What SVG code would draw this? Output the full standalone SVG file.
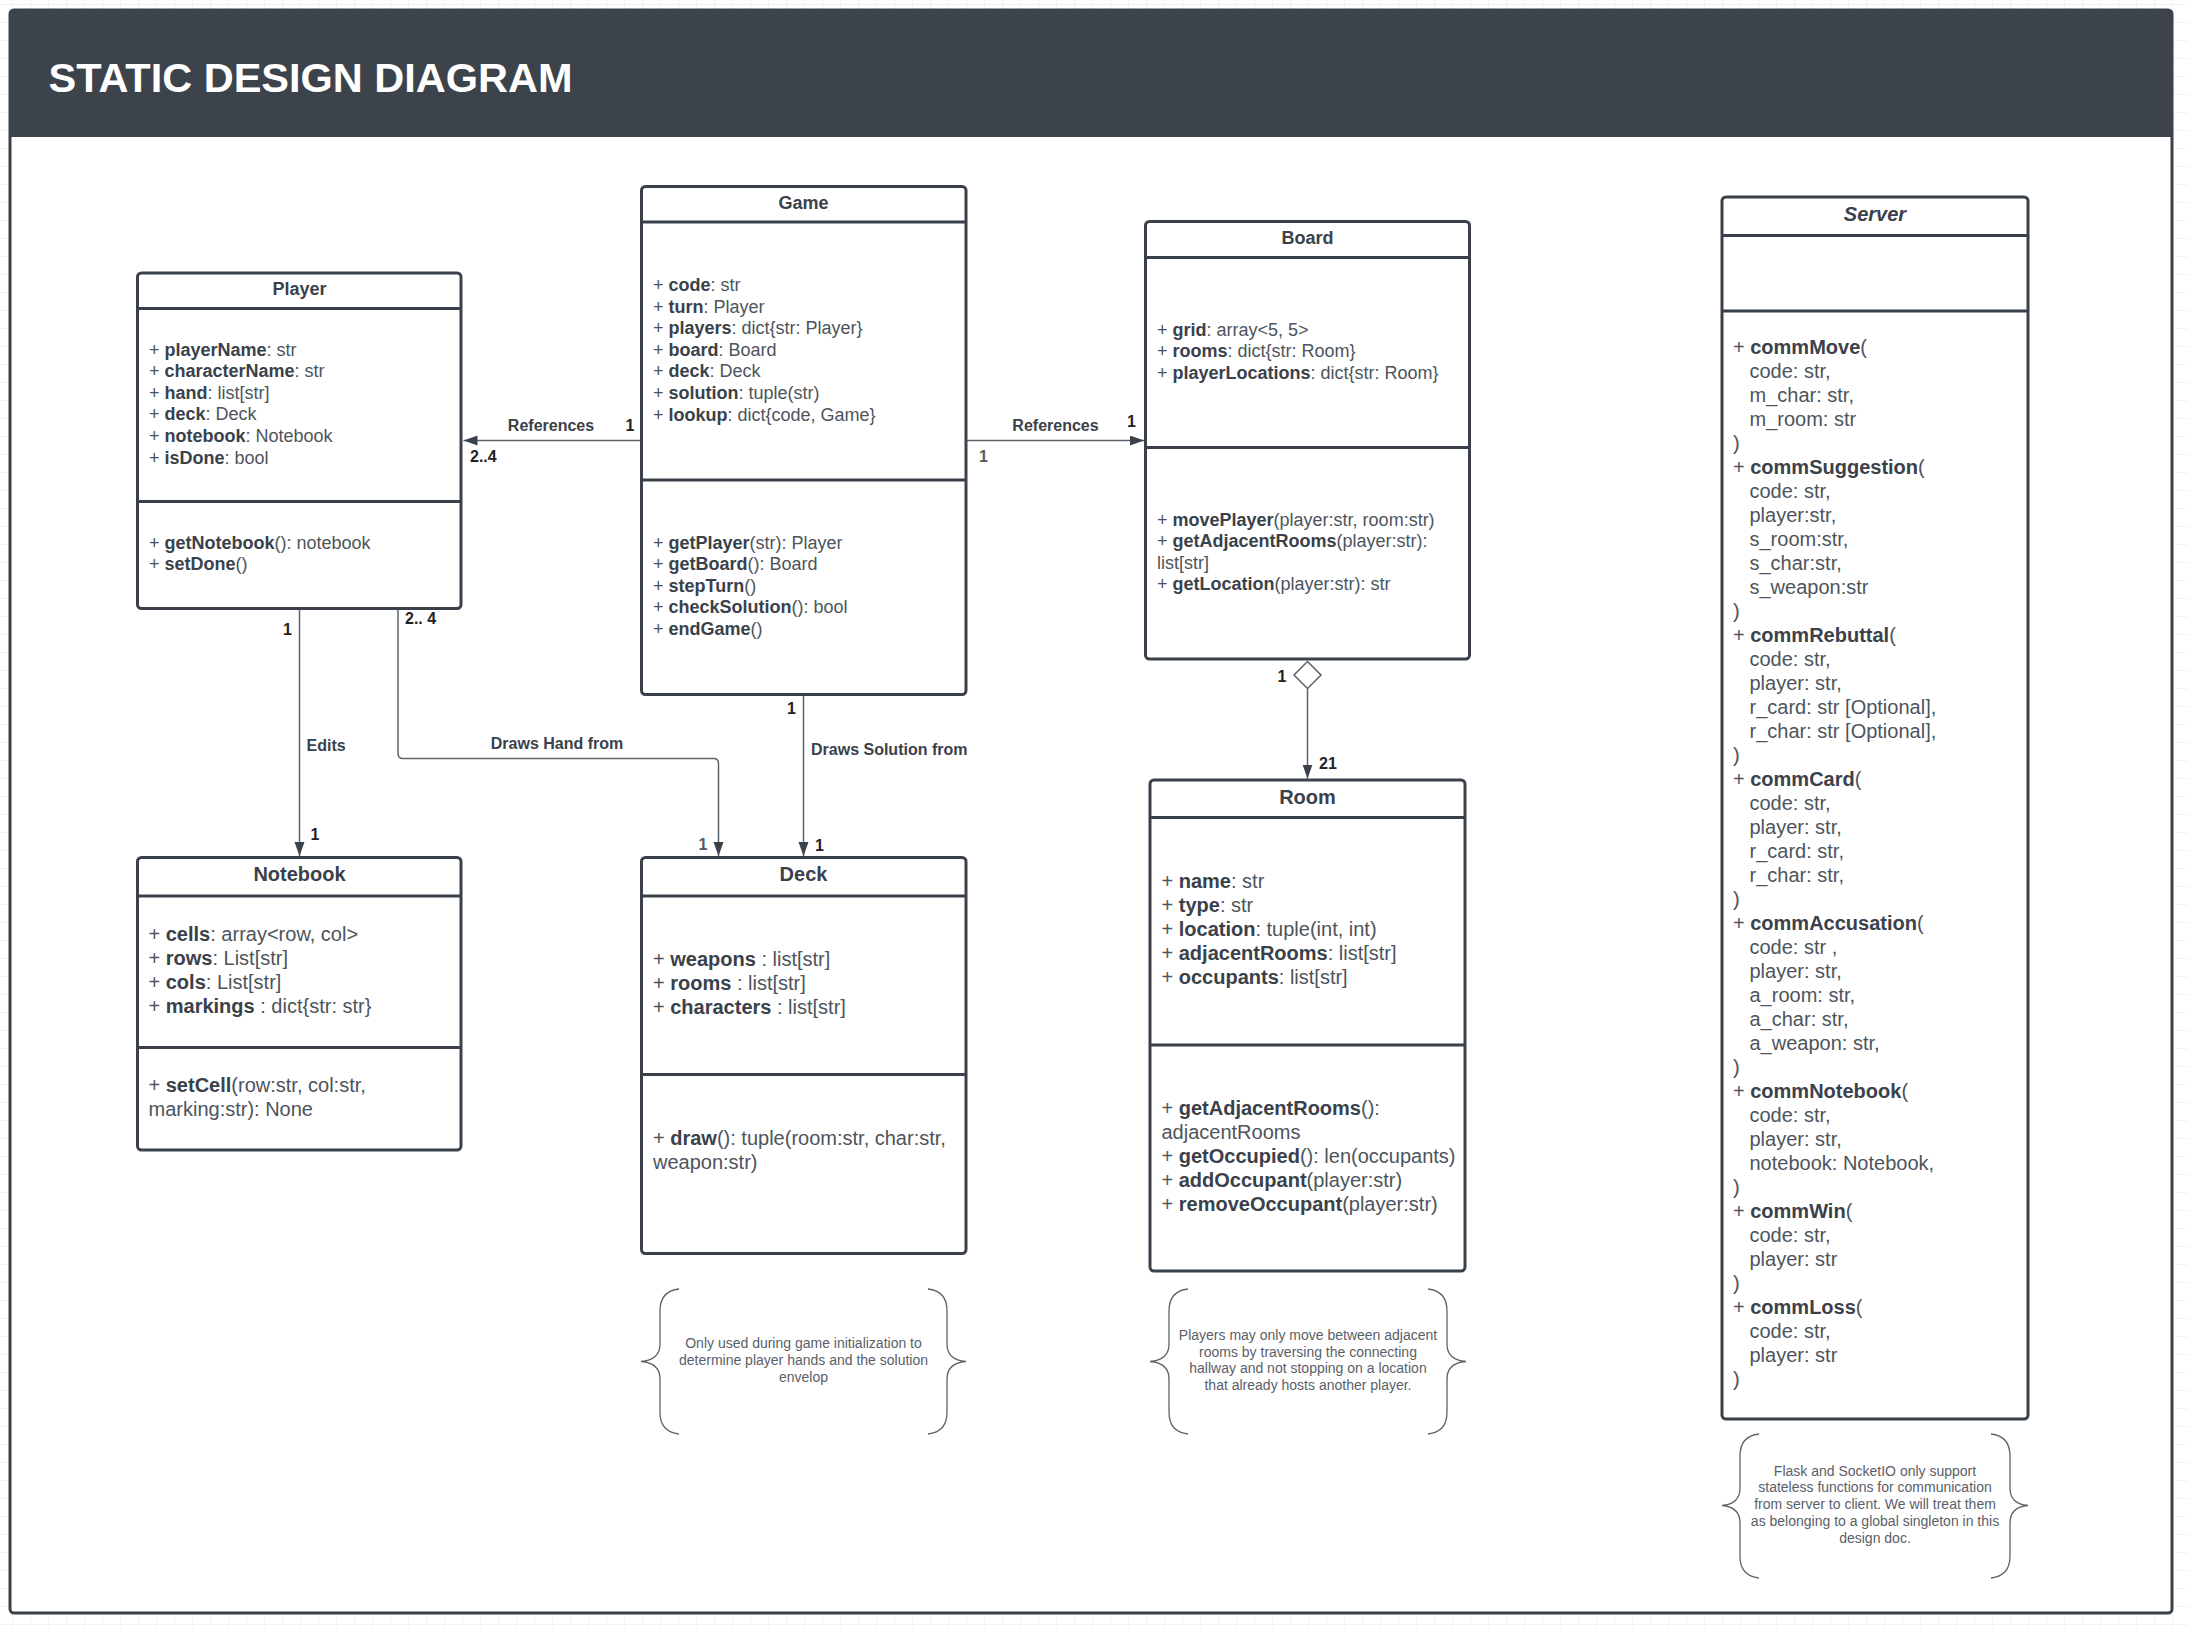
<svg xmlns="http://www.w3.org/2000/svg" width="2188" height="1628" viewBox="0 0 2188 1628">
<defs>
<pattern id="grid" width="18" height="18" patternUnits="userSpaceOnUse" x="12" y="4">
<path d="M18 0 L0 0 L0 18" fill="none" stroke="#e6e7e9" stroke-width="1"/>
</pattern>
<marker id="arr" markerUnits="userSpaceOnUse" markerWidth="16" markerHeight="12" refX="14" refY="5" orient="auto">
<path d="M0,0 L14,5 L0,10 z" fill="#3a414a"/>
</marker>
<style>
.t{font-family:'Liberation Sans',Arial,sans-serif;fill:#4d545c}
.b{font-weight:bold;fill:#3a414a}
.box{fill:#fff;stroke:#3a414a;stroke-width:3}
.dv{stroke:#3a414a;stroke-width:3}
.h18{font-size:18px;font-weight:bold;text-anchor:middle;fill:#3a414a}
.h20{font-size:20px;font-weight:bold;text-anchor:middle;fill:#3a414a}
.s18{font-size:18px}
.s20{font-size:20px}
.conn{stroke:#5c636b;stroke-width:1.5;fill:none}
.lbl{font-size:16px;font-weight:bold;fill:#3a414a}
.mult{font-size:16px;font-weight:bold;fill:#1f2226}
.note{font-size:14px;fill:#5a6068;text-anchor:middle}
.brace{stroke:#5c636b;stroke-width:1.3;fill:none}
</style>
</defs>
<rect x="0" y="0" width="2188" height="1628" fill="#fff"/>
<rect x="0" y="0" width="2188" height="1628" fill="url(#grid)"/>
<g id="frame">
<rect x="10" y="10" width="2162" height="1603" rx="4" fill="#fff" stroke="#3a414a" stroke-width="3"/>
<path d="M14 10 H2168 Q2172 10 2172 14 V137 H10 V14 Q10 10 14 10 z" fill="#3d434b"/>
<text class="t" x="48.5" y="92" font-size="41.5" font-weight="bold" fill="#ffffff" style="fill:#ffffff">STATIC DESIGN DIAGRAM</text>
</g>

<g id="connectors">
<path class="conn" d="M641 440.5 L463.5 440.5" marker-end="url(#arr)"/>
<path class="conn" d="M966 440.5 L1144 440.5" marker-end="url(#arr)"/>
<path class="conn" d="M299.5 608.5 L299.5 856" marker-end="url(#arr)"/>
<path class="conn" d="M398 608.5 L398 753.5 Q398 758.5 403 758.5 L713.5 758.5 Q718.5 758.5 718.5 763.5 L718.5 856" marker-end="url(#arr)"/>
<path class="conn" d="M803.5 695 L803.5 856" marker-end="url(#arr)"/>
<polygon points="1307.5,661.5 1321,675 1307.5,688.5 1294,675" fill="#fff" stroke="#5c636b" stroke-width="1.5"/>
<path class="conn" d="M1307.5 688.5 L1307.5 778.5" marker-end="url(#arr)"/>
<text class="t lbl" x="551" y="431" text-anchor="middle">References</text>
<text class="t mult" x="630" y="431" text-anchor="middle">1</text>
<text class="t mult" x="470" y="462">2..4</text>
<text class="t lbl" x="1055.5" y="431" text-anchor="middle">References</text>
<text class="t mult" x="1131.5" y="426.5" text-anchor="middle">1</text>
<text class="t lbl" x="983.5" y="461.5" text-anchor="middle" style="fill:#555b63">1</text>
<text class="t mult" x="287.5" y="634.5" text-anchor="middle">1</text>
<text class="t mult" x="405" y="624">2.. 4</text>
<text class="t lbl" x="306.5" y="750.5">Edits</text>
<text class="t lbl" x="557" y="748.5" text-anchor="middle">Draws Hand from</text>
<text class="t mult" x="315" y="840" text-anchor="middle">1</text>
<text class="t mult" x="791.5" y="714" text-anchor="middle">1</text>
<text class="t lbl" x="811" y="755">Draws Solution from</text>
<text class="t lbl" x="703" y="850" text-anchor="middle" style="fill:#555b63">1</text>
<text class="t mult" x="819.5" y="851" text-anchor="middle">1</text>
<text class="t mult" x="1282" y="682" text-anchor="middle">1</text>
<text class="t mult" x="1328" y="768.5" text-anchor="middle">21</text>
</g>

<g id="player">
<rect class="box" x="137.5" y="273" width="323.5" height="335.5" rx="4"/>
<line class="dv" x1="137.5" y1="308.5" x2="461" y2="308.5"/>
<line class="dv" x1="137.5" y1="501.5" x2="461" y2="501.5"/>
<text class="t h18" x="299.5" y="295">Player</text>
<text class="t s18" x="149" y="355.5">+ <tspan class="b">playerName</tspan>: str</text>
<text class="t s18" x="149" y="377.1">+ <tspan class="b">characterName</tspan>: str</text>
<text class="t s18" x="149" y="398.7">+ <tspan class="b">hand</tspan>: list[str]</text>
<text class="t s18" x="149" y="420.3">+ <tspan class="b">deck</tspan>: Deck</text>
<text class="t s18" x="149" y="441.9">+ <tspan class="b">notebook</tspan>: Notebook</text>
<text class="t s18" x="149" y="463.5">+ <tspan class="b">isDone</tspan>: bool</text>
<text class="t s18" x="149" y="548.5">+ <tspan class="b">getNotebook</tspan>(): notebook</text>
<text class="t s18" x="149" y="570.1">+ <tspan class="b">setDone</tspan>()</text>
</g>

<g id="game">
<rect class="box" x="641.5" y="186.5" width="324.5" height="508" rx="4"/>
<line class="dv" x1="641.5" y1="222" x2="966" y2="222"/>
<line class="dv" x1="641.5" y1="480" x2="966" y2="480"/>
<text class="t h18" x="803.5" y="208.5">Game</text>
<text class="t s18" x="653" y="291">+ <tspan class="b">code</tspan>: str</text>
<text class="t s18" x="653" y="312.6">+ <tspan class="b">turn</tspan>: Player</text>
<text class="t s18" x="653" y="334.2">+ <tspan class="b">players</tspan>: dict{str: Player}</text>
<text class="t s18" x="653" y="355.8">+ <tspan class="b">board</tspan>: Board</text>
<text class="t s18" x="653" y="377.4">+ <tspan class="b">deck</tspan>: Deck</text>
<text class="t s18" x="653" y="399">+ <tspan class="b">solution</tspan>: tuple(str)</text>
<text class="t s18" x="653" y="420.6">+ <tspan class="b">lookup</tspan>: dict{code, Game}</text>
<text class="t s18" x="653" y="548.5">+ <tspan class="b">getPlayer</tspan>(str): Player</text>
<text class="t s18" x="653" y="570.1">+ <tspan class="b">getBoard</tspan>(): Board</text>
<text class="t s18" x="653" y="591.7">+ <tspan class="b">stepTurn</tspan>()</text>
<text class="t s18" x="653" y="613.3">+ <tspan class="b">checkSolution</tspan>(): bool</text>
<text class="t s18" x="653" y="634.9">+ <tspan class="b">endGame</tspan>()</text>
</g>

<g id="board">
<rect class="box" x="1145.5" y="221.5" width="324" height="437.5" rx="4"/>
<line class="dv" x1="1145.5" y1="257.5" x2="1469.5" y2="257.5"/>
<line class="dv" x1="1145.5" y1="447.5" x2="1469.5" y2="447.5"/>
<text class="t h18" x="1307.5" y="244">Board</text>
<text class="t s18" x="1157" y="335.5">+ <tspan class="b">grid</tspan>: array&lt;5, 5&gt;</text>
<text class="t s18" x="1157" y="357.1">+ <tspan class="b">rooms</tspan>: dict{str: Room}</text>
<text class="t s18" x="1157" y="378.7">+ <tspan class="b">playerLocations</tspan>: dict{str: Room}</text>
<text class="t s18" x="1157" y="525.5">+ <tspan class="b">movePlayer</tspan>(player:str, room:str)</text>
<text class="t s18" x="1157" y="547.1">+ <tspan class="b">getAdjacentRooms</tspan>(player:str):</text>
<text class="t s18" x="1157" y="568.7">list[str]</text>
<text class="t s18" x="1157" y="590.3">+ <tspan class="b">getLocation</tspan>(player:str): str</text>
</g>

<g id="server">
<rect class="box" x="1722" y="197" width="306" height="1222" rx="4"/>
<line class="dv" x1="1722" y1="235.5" x2="2028" y2="235.5"/>
<line class="dv" x1="1722" y1="311" x2="2028" y2="311"/>
<text class="t h20" x="1875" y="221" font-style="italic">Server</text>
<text class="t s20" x="1733" y="353.5">
<tspan x="1733" dy="0">+ <tspan class="b">commMove</tspan>(</tspan>
<tspan x="1749.5" dy="24">code: str,</tspan>
<tspan x="1749.5" dy="24">m_char: str,</tspan>
<tspan x="1749.5" dy="24">m_room: str</tspan>
<tspan x="1733" dy="24">)</tspan>
<tspan x="1733" dy="24">+ <tspan class="b">commSuggestion</tspan>(</tspan>
<tspan x="1749.5" dy="24">code: str,</tspan>
<tspan x="1749.5" dy="24">player:str,</tspan>
<tspan x="1749.5" dy="24">s_room:str,</tspan>
<tspan x="1749.5" dy="24">s_char:str,</tspan>
<tspan x="1749.5" dy="24">s_weapon:str</tspan>
<tspan x="1733" dy="24">)</tspan>
<tspan x="1733" dy="24">+ <tspan class="b">commRebuttal</tspan>(</tspan>
<tspan x="1749.5" dy="24">code: str,</tspan>
<tspan x="1749.5" dy="24">player: str,</tspan>
<tspan x="1749.5" dy="24">r_card: str [Optional],</tspan>
<tspan x="1749.5" dy="24">r_char: str [Optional],</tspan>
<tspan x="1733" dy="24">)</tspan>
<tspan x="1733" dy="24">+ <tspan class="b">commCard</tspan>(</tspan>
<tspan x="1749.5" dy="24">code: str,</tspan>
<tspan x="1749.5" dy="24">player: str,</tspan>
<tspan x="1749.5" dy="24">r_card: str,</tspan>
<tspan x="1749.5" dy="24">r_char: str,</tspan>
<tspan x="1733" dy="24">)</tspan>
<tspan x="1733" dy="24">+ <tspan class="b">commAccusation</tspan>(</tspan>
<tspan x="1749.5" dy="24">code: str ,</tspan>
<tspan x="1749.5" dy="24">player: str,</tspan>
<tspan x="1749.5" dy="24">a_room: str,</tspan>
<tspan x="1749.5" dy="24">a_char: str,</tspan>
<tspan x="1749.5" dy="24">a_weapon: str,</tspan>
<tspan x="1733" dy="24">)</tspan>
<tspan x="1733" dy="24">+ <tspan class="b">commNotebook</tspan>(</tspan>
<tspan x="1749.5" dy="24">code: str,</tspan>
<tspan x="1749.5" dy="24">player: str,</tspan>
<tspan x="1749.5" dy="24">notebook: Notebook,</tspan>
<tspan x="1733" dy="24">)</tspan>
<tspan x="1733" dy="24">+ <tspan class="b">commWin</tspan>(</tspan>
<tspan x="1749.5" dy="24">code: str,</tspan>
<tspan x="1749.5" dy="24">player: str</tspan>
<tspan x="1733" dy="24">)</tspan>
<tspan x="1733" dy="24">+ <tspan class="b">commLoss</tspan>(</tspan>
<tspan x="1749.5" dy="24">code: str,</tspan>
<tspan x="1749.5" dy="24">player: str</tspan>
<tspan x="1733" dy="24">)</tspan>
</text>
</g>

<g id="notebook">
<rect class="box" x="137.5" y="857.5" width="323.5" height="292.5" rx="4"/>
<line class="dv" x1="137.5" y1="896" x2="461" y2="896"/>
<line class="dv" x1="137.5" y1="1047.5" x2="461" y2="1047.5"/>
<text class="t h20" x="299.5" y="881">Notebook</text>
<text class="t s20" x="148.5" y="940.5">+ <tspan class="b">cells</tspan>: array&lt;row, col&gt;</text>
<text class="t s20" x="148.5" y="964.5">+ <tspan class="b">rows</tspan>: List[str]</text>
<text class="t s20" x="148.5" y="988.5">+ <tspan class="b">cols</tspan>: List[str]</text>
<text class="t s20" x="148.5" y="1012.5">+ <tspan class="b">markings</tspan> : dict{str: str}</text>
<text class="t s20" x="148.5" y="1091.5">+ <tspan class="b">setCell</tspan>(row:str, col:str,</text>
<text class="t s20" x="148.5" y="1115.5">marking:str): None</text>
</g>

<g id="deck">
<rect class="box" x="641.5" y="857.5" width="324.5" height="396" rx="4"/>
<line class="dv" x1="641.5" y1="896" x2="966" y2="896"/>
<line class="dv" x1="641.5" y1="1074.5" x2="966" y2="1074.5"/>
<text class="t h20" x="803.5" y="881">Deck</text>
<text class="t s20" x="653" y="965.5">+ <tspan class="b">weapons</tspan> : list[str]</text>
<text class="t s20" x="653" y="989.5">+ <tspan class="b">rooms</tspan> : list[str]</text>
<text class="t s20" x="653" y="1013.5">+ <tspan class="b">characters</tspan> : list[str]</text>
<text class="t s20" x="653" y="1144.5">+ <tspan class="b">draw</tspan>(): tuple(room:str, char:str,</text>
<text class="t s20" x="653" y="1168.5">weapon:str)</text>
</g>

<g id="room">
<rect class="box" x="1150" y="780" width="315" height="491" rx="4"/>
<line class="dv" x1="1150" y1="817.5" x2="1465" y2="817.5"/>
<line class="dv" x1="1150" y1="1045" x2="1465" y2="1045"/>
<text class="t h20" x="1307.5" y="803.5">Room</text>
<text class="t s20" x="1161.5" y="888">+ <tspan class="b">name</tspan>: str</text>
<text class="t s20" x="1161.5" y="912">+ <tspan class="b">type</tspan>: str</text>
<text class="t s20" x="1161.5" y="936">+ <tspan class="b">location</tspan>: tuple(int, int)</text>
<text class="t s20" x="1161.5" y="960">+ <tspan class="b">adjacentRooms</tspan>: list[str]</text>
<text class="t s20" x="1161.5" y="984">+ <tspan class="b">occupants</tspan>: list[str]</text>
<text class="t s20" x="1161.5" y="1114.5">+ <tspan class="b">getAdjacentRooms</tspan>():</text>
<text class="t s20" x="1161.5" y="1138.5">adjacentRooms</text>
<text class="t s20" x="1161.5" y="1162.5">+ <tspan class="b">getOccupied</tspan>(): len(occupants)</text>
<text class="t s20" x="1161.5" y="1186.5">+ <tspan class="b">addOccupant</tspan>(player:str)</text>
<text class="t s20" x="1161.5" y="1210.5">+ <tspan class="b">removeOccupant</tspan>(player:str)</text>
</g>

<g id="note-deck">
<path class="brace" d="M679 1289 Q660 1291 660 1311 L660 1344 Q660 1360 641 1361.5 Q660 1363 660 1379 L660 1412 Q660 1432 679 1434"/>
<path class="brace" d="M928 1289 Q947 1291 947 1311 L947 1344 Q947 1360 966 1361.5 Q947 1363 947 1379 L947 1412 Q947 1432 928 1434"/>
<text class="t note" x="803.5" y="1348">Only used during game initialization to</text>
<text class="t note" x="803.5" y="1365">determine player hands and the solution</text>
<text class="t note" x="803.5" y="1381.5">envelop</text>
</g>

<g id="note-room">
<path class="brace" d="M1188 1289 Q1169 1291 1169 1311 L1169 1344 Q1169 1360 1150 1361.5 Q1169 1363 1169 1379 L1169 1412 Q1169 1432 1188 1434"/>
<path class="brace" d="M1428 1289 Q1447 1291 1447 1311 L1447 1344 Q1447 1360 1466 1361.5 Q1447 1363 1447 1379 L1447 1412 Q1447 1432 1428 1434"/>
<text class="t note" x="1308" y="1339.5">Players may only move between adjacent</text>
<text class="t note" x="1308" y="1356.5">rooms by traversing the connecting</text>
<text class="t note" x="1308" y="1373">hallway and not stopping on a location</text>
<text class="t note" x="1308" y="1390">that already hosts another player.</text>
</g>

<g id="note-server">
<path class="brace" d="M1759 1434 Q1740 1436 1740 1456 L1740 1488 Q1740 1504 1722 1505.5 Q1740 1507 1740 1523 L1740 1556 Q1740 1576 1759 1578"/>
<path class="brace" d="M1991 1434 Q2010 1436 2010 1456 L2010 1488 Q2010 1504 2028 1505.5 Q2010 1507 2010 1523 L2010 1556 Q2010 1576 1991 1578"/>
<text class="t note" x="1875" y="1475.5">Flask and SocketIO only support</text>
<text class="t note" x="1875" y="1492">stateless functions for communication</text>
<text class="t note" x="1875" y="1509">from server to client. We will treat them</text>
<text class="t note" x="1875" y="1526">as belonging to a global singleton in this</text>
<text class="t note" x="1875" y="1542.5">design doc.</text>
</g>
</svg>
